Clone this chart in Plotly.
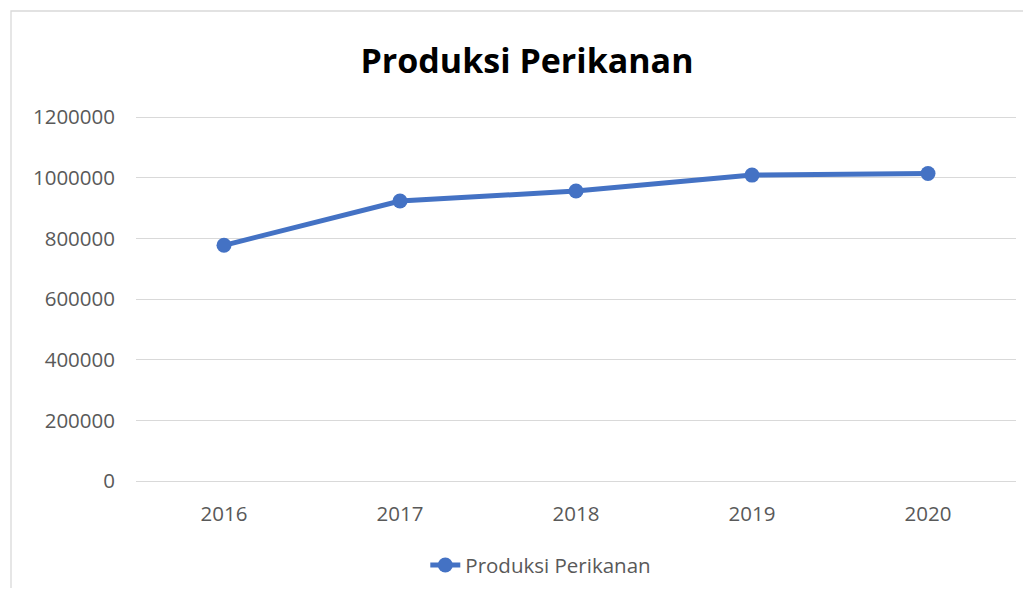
import plotly.graph_objects as go

years = ["2016", "2017", "2018", "2019", "2020"]
produksi = [777500, 923500, 956500, 1009000, 1014500]
y_ticks = [0, 200000, 400000, 600000, 800000, 1000000, 1200000]
series_name = "Produksi Perikanan"
title_text = "Produksi Perikanan"

W, H = 1015, 580
L, R, T, B = 128, 7, 108, 107
PW = W - L - R
PH = H - T - B

fig = go.Figure()
fig.add_trace(go.Scatter(
    x=years, y=produksi, name=series_name, mode="lines+markers",
    line=dict(color="#4472C4", width=5),
    marker=dict(color="#4472C4", size=15),
))

fig.update_layout(
    width=W, height=H,
    margin=dict(l=L, r=R, t=T, b=B, autoexpand=False),
    paper_bgcolor="white", plot_bgcolor="white",
    font=dict(family="Open Sans", color="#595959", size=20.5),
    title=dict(text="<b>" + title_text + "</b>", x=519 / W, xanchor="center",
               y=1 - 53 / H, yanchor="middle",
               font=dict(family="Open Sans", size=34, color="#000000")),
    showlegend=True,
    legend=dict(orientation="h", x=0.460, xanchor="center", y=-0.2306, yanchor="middle",
                font=dict(size=20.5, color="#595959"), itemwidth=30),
    xaxis=dict(type="category", range=[-0.5, 4.5], showgrid=False, showline=False,
               zeroline=False, ticks="", ticklabelstandoff=18, automargin=False,
               tickfont=dict(size=20.5, color="#595959")),
    yaxis=dict(range=[0, 1204000], tickvals=y_ticks, ticktext=[str(v) for v in y_ticks],
               showgrid=True, gridcolor="#d9d9d9", gridwidth=1.3, zeroline=True,
               zerolinecolor="#d9d9d9", zerolinewidth=1.3, showline=False, ticks="",
               automargin=False,
               ticklabelstandoff=20, tickfont=dict(size=20.5, color="#595959")),
)

fig.add_shape(type="rect", xref="paper", yref="paper",
              x0=(3 - L) / PW, x1=(W + 20 - L) / PW,
              y0=(PH - (H + 20 - T)) / PH, y1=(PH + T - 3) / PH,
              line=dict(color="#d9d9d9", width=1.3), fillcolor="rgba(0,0,0,0)", layer="below")

fig.write_html("out.html")
